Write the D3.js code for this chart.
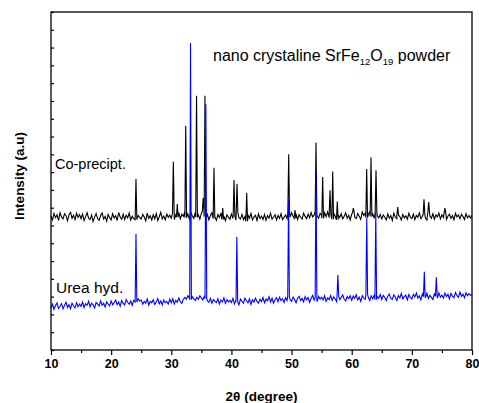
<!DOCTYPE html>
<html>
<head>
<meta charset="utf-8">
<script src="https://cdn.jsdelivr.net/npm/d3@7/dist/d3.min.js"></script>
<style>
  html, body { margin: 0; padding: 0; background: #fff; }
  svg { display: block; }
  text { font-family: "Liberation Sans", Arial, sans-serif; }
</style>
</head>
<body>
<svg id="chart" width="479" height="403"></svg>
<script>
// 2θ scan: 10° to 80°, background sampled every 0.25°
const scanStart = 10;
const scanStep = 0.25;

// Background (with counting noise), co-precipitated sample
const coPreciptBackground = [
  752,731,768,744,760,729,771,748,737,766,755,726,762,774,740,758,733,769,745,761,
  738,764,727,750,772,741,733,759,722,747,767,739,729,756,770,736,751,724,762,744,
  731,766,742,755,728,773,747,735,763,734,757,743,770,730,752,739,767,733,756,745,
  735,762,748,726,769,740,754,731,760,738,766,727,749,774,737,753,732,764,746,758,
  741,767,733,760,747,772,738,763,751,777,744,765,737,771,754,740,774,746,760,736,
  768,778,750,737,762,731,756,771,739,748,729,761,745,769,734,752,727,760,747,735,
  764,740,755,730,770,744,736,762,733,751,724,759,741,767,731,749,757,728,765,739,
  752,734,762,729,755,741,769,735,748,760,731,756,740,766,733,746,759,738,771,747,
  773,752,740,765,733,761,746,736,769,751,738,764,743,772,748,758,779,752,741,768,
  757,740,772,749,776,744,762,735,768,753,732,761,744,766,737,752,771,741,757,731,
  763,772,747,739,768,752,735,776,756,770,744,759,779,750,765,740,774,754,743,762,
  737,759,746,731,765,741,755,728,769,746,738,758,750,730,762,743,754,735,768,747,
  739,764,733,757,746,771,738,752,762,742,730,773,753,741,766,735,759,748,770,737,
  760,745,771,734,752,764,740,756,732,768,748,759,738,763,750,733,767,743,756,741,
  758
];

// Background (with counting noise), urea hydrolysis sample
const ureaBackground = [
  236,257,229,250,265,234,246,261,231,252,268,239,255,232,263,247,237,266,243,258,
  246,269,239,260,251,274,243,263,254,236,268,258,247,276,251,263,241,271,259,248,
  276,254,266,281,255,270,246,278,262,253,284,267,257,275,250,279,261,270,288,276,
  281,258,273,263,287,252,274,265,283,256,270,289,260,276,253,282,266,272,259,286,
  266,288,258,279,269,292,273,262,284,296,286,305,292,283,299,287,278,296,285,304,
  293,282,301,289,277,268,290,263,284,273,266,288,259,281,270,293,262,283,271,279,
  267,290,259,282,271,254,286,274,263,292,277,265,288,257,282,269,291,273,263,286,
  273,295,265,287,276,299,270,291,263,283,294,272,297,278,288,267,293,279,300,284,
  273,298,284,266,291,302,278,290,271,300,282,295,268,289,306,280,293,272,301,287,
  297,281,304,273,292,284,307,279,299,287,272,303,283,294,310,285,276,301,288,305,
  279,303,290,311,282,297,273,306,292,285,313,296,278,304,288,309,283,300,291,312,
  284,307,295,278,304,314,290,284,310,297,279,306,292,318,287,301,308,282,312,295,
  287,313,298,320,291,305,282,316,300,293,319,289,307,296,284,315,302,292,321,297,
  308,292,320,301,313,287,318,303,294,323,307,296,326,302,314,293,322,305,317,307,
  312
];

// Reflections: peak position 2θ (°) and peak intensity (a.u.)
const coPreciptPeakPos = [24.13, 30.34, 31.0, 32.4, 34.2, 35.3, 35.6, 37.1, 38.55, 40.43, 40.93, 42.54,
  49.52, 50.57, 54.06, 55.17, 56.39, 56.84, 57.6, 60.27, 62.49, 63.21, 64.04, 67.65, 72.02, 72.8, 75.5];
const coPreciptPeakInt = [961, 1058, 821, 1259, 1429, 854, 1429, 1025, 798, 956, 935, 884,
  1100, 787, 1167, 972, 898, 1004, 834, 798, 1017, 1083, 1010, 804, 847, 832, 798];

const ureaPeakPos = [24.13, 33.2, 35.75, 40.9, 49.5, 54.06, 57.7, 62.5, 64.0, 72.07, 74.07];
const ureaPeakInt = [652, 1726, 1383, 635, 843, 1000, 422, 742, 776, 440, 409];

const xTicks = [10, 20, 30, 40, 50, 60, 70, 80];
const xMinorTicks = [15, 25, 35, 45, 55, 65, 75];
const yTicks = d3.range(0, 1901, 100);

const svg = d3.select("#chart");
const plot = { left: 51, top: 12, right: 472, bottom: 350 };

const x = d3.scaleLinear().domain([10, 80]).range([plot.left, plot.right]);
const y = d3.scaleLinear().domain([0, 1900]).range([plot.bottom, plot.top]);

// Merge the sampled background with narrow peak profiles
function buildTrace(background, peakPos, peakInt) {
  const halfWidth = 0.14;
  const pts = background
    .map((v, i) => [scanStart + i * scanStep, v])
    .filter(p => !peakPos.some(t => Math.abs(p[0] - t) <= halfWidth));
  peakPos.forEach((t, k) => {
    const base = background[Math.round((t - scanStart) / scanStep)];
    pts.push([t - halfWidth, base], [t, peakInt[k]], [t + halfWidth, base]);
  });
  return pts.sort((a, b) => a[0] - b[0]);
}

const line = d3.line().x(d => x(d[0])).y(d => y(d[1]));

svg.append("path")
  .datum(buildTrace(coPreciptBackground, coPreciptPeakPos, coPreciptPeakInt))
  .attr("fill", "none").attr("stroke", "#000").attr("stroke-width", 1.1)
  .attr("d", line);

svg.append("path")
  .datum(buildTrace(ureaBackground, ureaPeakPos, ureaPeakInt))
  .attr("fill", "none").attr("stroke", "#0000ff").attr("stroke-width", 1.1)
  .attr("d", line);

// Axes
const xAxis = svg.append("g")
  .attr("transform", `translate(0,${plot.bottom})`)
  .call(d3.axisBottom(x).tickValues(xTicks).tickSize(5).tickPadding(4).tickFormat(d3.format("d")));
xAxis.select(".domain").remove();
xAxis.selectAll("line").attr("stroke-width", 1.2);
xAxis.selectAll("text")
  .attr("font-family", "'Liberation Sans', Arial, sans-serif")
  .attr("font-size", 12.5).attr("font-weight", "bold").attr("fill", "#000");

const xMinor = svg.append("g")
  .attr("transform", `translate(0,${plot.bottom})`)
  .call(d3.axisBottom(x).tickValues(xMinorTicks).tickSize(3).tickFormat(""));
xMinor.select(".domain").remove();
xMinor.selectAll("line").attr("stroke-width", 1.2);

const yAxis = svg.append("g")
  .attr("transform", `translate(${plot.left},0)`)
  .call(d3.axisLeft(y).tickValues(yTicks).tickSize(-3).tickFormat(""));
yAxis.select(".domain").remove();
yAxis.selectAll("line").attr("stroke-width", 1.2);

// Frame
svg.append("rect")
  .attr("x", plot.left).attr("y", plot.top)
  .attr("width", plot.right - plot.left).attr("height", plot.bottom - plot.top)
  .attr("fill", "none").attr("stroke", "#000").attr("stroke-width", 1.3);

// Axis titles
svg.append("text")
  .attr("x", 261.5).attr("y", 401)
  .attr("text-anchor", "middle")
  .attr("font-size", 13.5).attr("font-weight", "bold")
  .text("2θ (degree)");

svg.append("text")
  .attr("transform", "translate(24,176) rotate(-90)")
  .attr("text-anchor", "middle")
  .attr("font-size", 13.5).attr("font-weight", "bold")
  .text("Intensity (a.u)");

// Annotations
const title = svg.append("text")
  .attr("x", 213).attr("y", 61)
  .attr("font-size", 16);
title.append("tspan").text("nano crystaline SrFe");
title.append("tspan").attr("font-size", 9.5).attr("dy", 4).text("12");
title.append("tspan").attr("dy", -4).text("O");
title.append("tspan").attr("font-size", 9.5).attr("dy", 4).text("19");
title.append("tspan").attr("dy", -4).text(" powder");

svg.append("text")
  .attr("x", 55).attr("y", 169).attr("font-size", 14.5)
  .text("Co-precipt.");

svg.append("text")
  .attr("x", 56).attr("y", 292.5).attr("font-size", 15.5)
  .text("Urea hyd.");
</script>
</body>
</html>
